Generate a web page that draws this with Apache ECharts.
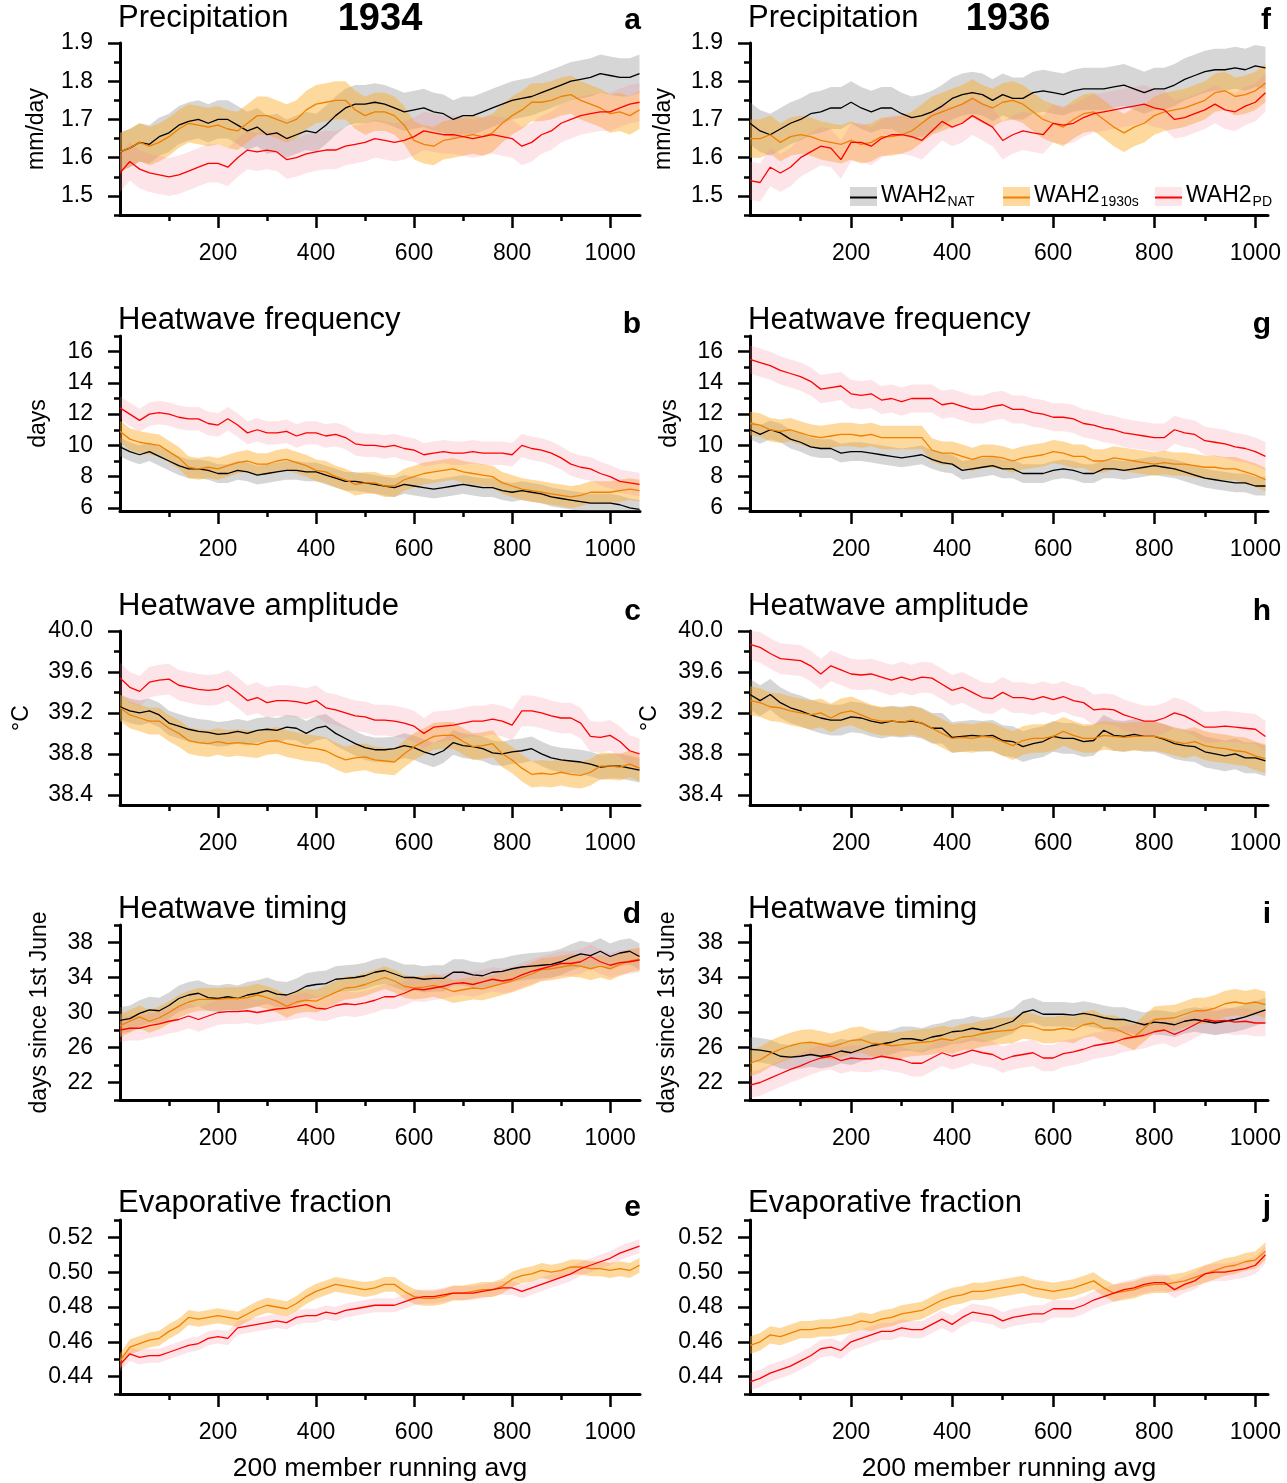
<!DOCTYPE html>
<html>
<head>
<meta charset="utf-8">
<script src="https://cdn.jsdelivr.net/npm/echarts@6/dist/echarts.min.js"></script>
<style>
html,body{margin:0;padding:0;background:#fff;}
#chart{width:1287px;height:1483px;}
</style>
</head>
<body>
<div id="chart"></div>
<script>
// ---------------- DATA ----------------
const xLeft = [0,20,40,60,80,100,120,140,160,180,200,220,240,260,280,300,320,340,360,380,400,420,440,460,480,500,520,540,560,580,600,620,640,660,680,700,720,740,760,780,800,820,840,860,880,900,920,940,960,980,1000,1020,1040,1060];
const xRight = [0,20,40,60,80,100,120,140,160,180,200,220,240,260,280,300,320,340,360,380,400,420,440,460,480,500,520,540,560,580,600,620,640,660,680,700,720,740,760,780,800,820,840,860,880,900,920,940,960,980,1000,1020];

const xTicks = [200,400,600,800,1000];
const xMinorTicks = [100,300,500,700,900];
const precipTicks = [1.5,1.6,1.7,1.8,1.9];
const freqTicks = [6,8,10,12,14,16];
const ampTicks = [38.4,38.8,39.2,39.6,40.0];
const timingTicks = [22,26,30,34,38];
const efTicks = [0.44,0.46,0.48,0.50,0.52];

// 1934 column
const aNat = [1.615,1.625,1.640,1.635,1.655,1.665,1.685,1.695,1.700,1.690, 1.700,1.700,1.685,1.670,1.680,1.660,1.665,1.650,1.660,1.670, 1.665,1.685,1.710,1.730,1.740,1.740,1.745,1.740,1.730,1.720, 1.725,1.730,1.720,1.715,1.700,1.710,1.710,1.720,1.730,1.740, 1.750,1.755,1.760,1.770,1.780,1.790,1.800,1.805,1.810,1.820, 1.815,1.810,1.810,1.820];
const a1930 = [1.615,1.625,1.640,1.630,1.640,1.655,1.675,1.690,1.685,1.680, 1.685,1.675,1.670,1.690,1.710,1.710,1.700,1.690,1.700,1.725, 1.740,1.745,1.750,1.750,1.725,1.710,1.720,1.720,1.710,1.685, 1.645,1.635,1.630,1.645,1.650,1.655,1.660,1.655,1.665,1.690, 1.710,1.725,1.745,1.745,1.750,1.760,1.765,1.750,1.740,1.730, 1.715,1.720,1.710,1.725];
const aPD = [1.560,1.590,1.570,1.560,1.555,1.550,1.555,1.565,1.575,1.585, 1.585,1.575,1.600,1.620,1.615,1.620,1.615,1.595,1.600,1.610, 1.615,1.620,1.620,1.630,1.635,1.640,1.650,1.645,1.640,1.645, 1.655,1.670,1.665,1.660,1.660,1.655,1.650,1.655,1.660,1.655, 1.650,1.630,1.640,1.660,1.670,1.690,1.700,1.710,1.715,1.720, 1.720,1.730,1.740,1.745];

const bNat = [9.9,9.6,9.4,9.6,9.3,9.0,8.7,8.5,8.5,8.4, 8.2,8.2,8.4,8.3,8.1,8.2,8.3,8.4,8.4,8.3, 8.3,8.1,7.9,7.7,7.7,7.6,7.5,7.4,7.3,7.5, 7.4,7.3,7.2,7.3,7.4,7.5,7.4,7.3,7.3,7.1, 7.0,7.1,7.0,6.9,6.7,6.6,6.5,6.4,6.3,6.3, 6.3,6.2,6.0,5.9];
const b1930 = [10.9,10.4,10.2,10.1,10.0,9.6,9.2,8.6,8.5,8.6, 8.5,8.7,8.9,9.0,8.8,8.8,9.0,9.1,8.9,8.7, 8.4,8.3,8.0,7.8,7.5,7.6,7.6,7.4,7.4,7.8, 8.0,8.2,8.3,8.4,8.5,8.3,8.2,8.1,8.0,7.6, 7.4,7.2,7.1,7.0,6.9,6.8,6.7,6.8,7.0,7.0, 7.0,7.1,7.2,7.1];
const bPD = [12.4,12.0,11.6,12.0,12.1,12.0,11.8,11.7,11.7,11.4, 11.3,11.7,11.3,10.8,11.0,10.8,10.8,10.9,10.6,10.8, 10.8,10.6,10.7,10.5,10.1,10.0,10.0,9.9,10.0,9.8, 9.7,9.4,9.5,9.6,9.5,9.5,9.6,9.5,9.5,9.5, 9.4,10.0,9.8,9.7,9.5,9.2,8.8,8.6,8.5,8.2, 8.0,7.7,7.6,7.5];

const cNat = [39.26,39.22,39.20,39.22,39.18,39.10,39.07,39.04,39.02,39.01, 38.99,39.00,39.02,39.00,39.03,39.04,39.03,39.06,39.05,39.00, 39.05,39.07,39.00,38.95,38.90,38.86,38.84,38.84,38.85,38.88, 38.86,38.82,38.79,38.83,38.91,38.88,38.87,38.85,38.81,38.80, 38.82,38.83,38.85,38.80,38.76,38.74,38.73,38.72,38.70,38.67, 38.68,38.68,38.66,38.64];
const c1930 = [39.25,39.18,39.15,39.12,39.12,39.05,39.00,38.93,38.91,38.90, 38.92,38.90,38.91,38.90,38.89,38.92,38.93,38.90,38.88,38.86, 38.85,38.83,38.78,38.74,38.76,38.77,38.74,38.73,38.72,38.80, 38.87,38.92,38.97,38.98,38.98,38.92,38.87,38.88,38.90,38.80, 38.74,38.66,38.60,38.61,38.60,38.62,38.60,38.59,38.62,38.68, 38.68,38.67,38.70,38.66];
const cPD = [39.54,39.45,39.41,39.50,39.52,39.53,39.47,39.45,39.43,39.42, 39.43,39.47,39.40,39.32,39.35,39.30,39.32,39.32,39.31,39.29, 39.32,39.25,39.23,39.20,39.17,39.16,39.13,39.13,39.12,39.10, 39.07,39.00,39.06,39.07,39.08,39.10,39.12,39.12,39.14,39.12, 39.08,39.22,39.22,39.20,39.17,39.15,39.15,39.10,38.97,38.96, 38.98,38.92,38.83,38.80];

const dNat = [29.1,29.3,29.9,30.3,30.2,30.8,31.6,32.0,32.2,31.7, 31.6,31.8,31.6,32.0,32.2,32.5,32.1,32.0,32.4,33.0, 33.2,33.3,33.8,33.9,34.0,34.2,34.6,34.8,34.4,34.0, 34.0,33.8,33.9,33.9,34.6,34.6,34.3,34.2,34.6,34.7, 35.0,35.2,35.3,35.4,35.5,35.8,36.3,36.7,36.5,37.0, 36.4,36.8,37.0,36.4];
const d1930 = [28.5,29.0,29.5,29.0,29.4,30.0,30.7,31.2,31.5,31.5, 31.5,31.6,31.6,31.7,32.0,31.7,31.3,30.7,31.2,31.4, 31.3,31.8,32.3,32.8,32.9,33.2,33.6,34.0,33.6,33.0, 32.8,32.9,33.1,32.8,32.4,32.6,32.8,32.7,33.0,33.3, 33.6,34.0,34.4,34.9,35.0,35.2,35.4,35.3,35.0,35.3, 35.0,35.5,35.9,36.1];
const dPD = [28.0,28.2,28.2,28.5,28.7,29.0,29.2,29.6,29.2,29.6, 30.0,30.1,30.1,30.2,30.0,30.2,30.4,30.5,30.7,30.9, 30.5,30.4,30.8,31.0,30.9,31.1,31.4,31.8,31.8,32.2, 32.7,32.6,32.8,33.0,33.3,33.4,33.2,33.5,33.8,33.6, 33.8,34.3,34.7,35.0,35.3,35.6,35.6,35.8,36.4,35.8, 35.4,35.7,35.8,36.0];

const e1930 = [0.449,0.457,0.459,0.461,0.462,0.466,0.469,0.474,0.473,0.474, 0.475,0.474,0.473,0.476,0.479,0.481,0.480,0.479,0.482,0.486, 0.489,0.491,0.493,0.492,0.491,0.490,0.491,0.493,0.493,0.489, 0.486,0.485,0.485,0.486,0.488,0.488,0.489,0.490,0.490,0.492, 0.496,0.498,0.499,0.501,0.500,0.501,0.503,0.503,0.502,0.502, 0.501,0.502,0.501,0.504];
const ePD = [0.447,0.453,0.451,0.452,0.452,0.454,0.456,0.458,0.459,0.462, 0.463,0.462,0.468,0.469,0.470,0.471,0.472,0.471,0.474,0.475, 0.475,0.477,0.476,0.478,0.479,0.480,0.481,0.481,0.481,0.483, 0.485,0.486,0.486,0.487,0.488,0.488,0.488,0.489,0.490,0.491, 0.491,0.489,0.491,0.493,0.495,0.497,0.499,0.502,0.504,0.506, 0.508,0.511,0.513,0.515];

// 1936 column
const fNat = [1.690,1.670,1.660,1.675,1.690,1.700,1.715,1.720,1.730,1.730, 1.745,1.730,1.720,1.730,1.730,1.715,1.705,1.710,1.720,1.735, 1.755,1.765,1.770,1.765,1.750,1.765,1.755,1.755,1.770,1.775, 1.770,1.765,1.775,1.780,1.780,1.780,1.785,1.790,1.780,1.770, 1.780,1.780,1.790,1.805,1.815,1.825,1.830,1.830,1.835,1.830, 1.840,1.835];
const f1930 = [1.650,1.650,1.660,1.640,1.655,1.660,1.655,1.645,1.640,1.635, 1.645,1.635,1.640,1.655,1.655,1.660,1.670,1.690,1.710,1.720, 1.730,1.740,1.755,1.740,1.730,1.745,1.750,1.740,1.720,1.700, 1.690,1.680,1.700,1.715,1.720,1.700,1.680,1.665,1.680,1.690, 1.710,1.720,1.725,1.730,1.740,1.750,1.770,1.775,1.760,1.765, 1.775,1.795];
const fPD = [1.540,1.535,1.575,1.560,1.575,1.600,1.615,1.630,1.625,1.595, 1.640,1.640,1.630,1.650,1.660,1.660,1.655,1.645,1.670,1.695, 1.680,1.690,1.710,1.695,1.680,1.645,1.660,1.670,1.665,1.660, 1.690,1.685,1.690,1.705,1.715,1.720,1.725,1.730,1.735,1.740, 1.730,1.725,1.700,1.705,1.715,1.725,1.740,1.725,1.720,1.735, 1.745,1.770];

const gNat = [11.0,10.7,11.0,10.8,10.4,10.2,9.9,9.8,9.8,9.5, 9.6,9.6,9.5,9.4,9.3,9.2,9.3,9.4,9.1,8.9, 8.8,8.4,8.5,8.6,8.7,8.5,8.5,8.2,8.2,8.2, 8.4,8.5,8.4,8.2,8.2,8.5,8.5,8.4,8.5,8.6, 8.7,8.6,8.5,8.3,8.1,7.9,7.8,7.7,7.6,7.6, 7.4,7.4];
const g1930 = [11.4,11.3,11.0,10.9,11.0,10.8,10.6,10.5,10.6,10.7, 10.7,10.6,10.7,10.5,10.5,10.5,10.5,10.5,9.7,9.5, 9.5,9.3,9.1,9.3,9.3,9.2,9.0,9.2,9.3,9.4, 9.6,9.5,9.3,9.3,9.0,9.0,9.2,9.1,9.0,8.9, 8.8,8.9,8.8,8.8,8.7,8.6,8.6,8.5,8.5,8.3, 8.1,7.8];
const gPD = [15.5,15.3,15.1,14.8,14.6,14.4,14.1,13.6,13.7,13.8, 13.3,13.2,13.3,12.9,13.0,12.8,13.0,13.0,13.0,12.6, 12.7,12.5,12.3,12.3,12.5,12.6,12.3,12.3,12.1,12.0, 11.8,11.8,11.7,11.4,11.3,11.1,11.0,10.8,10.7,10.6, 10.5,10.5,11.0,10.8,10.7,10.3,10.2,10.1,9.9,9.8, 9.6,9.3];

const hNat = [39.38,39.32,39.38,39.30,39.25,39.22,39.18,39.15,39.13,39.13, 39.16,39.15,39.12,39.10,39.12,39.11,39.12,39.10,39.05,39.05, 38.96,38.97,38.98,38.97,38.98,38.93,38.92,38.87,38.90,38.92, 38.97,38.95,38.95,38.92,38.93,39.03,38.98,38.97,38.99,38.97, 38.97,38.94,38.90,38.88,38.87,38.82,38.80,38.78,38.80,38.76, 38.76,38.73];
const h1930 = [39.32,39.30,39.26,39.25,39.22,39.20,39.18,39.20,39.15,39.20, 39.22,39.18,39.14,39.12,39.12,39.11,39.13,39.10,39.05,39.00, 38.95,38.96,38.95,38.97,38.96,38.92,38.88,38.93,38.95,38.95, 38.97,39.02,38.98,38.95,38.95,38.98,38.97,38.96,38.97,38.97, 38.97,38.95,38.92,38.90,38.92,38.88,38.86,38.85,38.83,38.82, 38.78,38.75];
const hPD = [39.87,39.84,39.78,39.73,39.72,39.71,39.66,39.58,39.66,39.62, 39.58,39.57,39.58,39.55,39.52,39.55,39.52,39.55,39.54,39.48, 39.42,39.45,39.40,39.35,39.34,39.40,39.35,39.35,39.33,39.36, 39.33,39.36,39.32,39.30,39.23,39.24,39.23,39.18,39.15,39.12, 39.12,39.15,39.20,39.17,39.12,39.06,39.06,39.07,39.06,39.05, 39.04,38.97];

const iNat = [25.8,25.7,25.5,25.0,24.9,25.0,25.2,25.0,25.2,25.6, 25.4,25.8,26.2,26.4,26.6,27.0,27.0,26.8,27.2,27.4, 27.8,27.9,28.2,28.0,28.2,28.6,29.0,30.0,30.3,29.8, 29.8,29.8,29.7,29.9,29.7,29.4,29.2,29.2,28.9,28.6, 28.9,28.8,28.6,29.0,29.2,29.0,28.8,29.0,29.2,29.5, 29.9,30.3];
const i1930 = [24.2,24.6,25.3,25.8,26.2,26.5,26.6,26.4,26.1,26.4, 26.8,26.9,26.5,26.4,26.2,26.3,26.5,26.6,26.7,27.0, 26.8,27.2,27.3,27.6,27.8,27.9,28.0,28.5,28.4,28.0, 28.0,28.2,28.0,28.6,28.8,28.2,28.2,27.7,27.2,28.2, 29.2,29.3,29.4,29.8,30.2,30.2,30.5,31.0,31.2,31.0, 31.2,30.9];
const iPD = [21.7,22.0,22.5,23.0,23.5,23.9,24.4,24.8,25.0,24.5, 24.8,24.7,24.7,25.0,24.8,24.6,24.2,24.2,24.8,25.4, 25.0,25.3,25.7,25.4,25.2,24.6,25.0,25.2,25.4,24.8, 24.8,25.3,25.5,25.8,26.2,26.4,26.6,27.0,27.2,27.4, 27.8,28.0,27.5,28.0,28.6,29.2,29.0,29.1,28.9,29.0, 28.8,28.8];

const j1930 = [0.458,0.460,0.464,0.463,0.465,0.467,0.467,0.468,0.468,0.469, 0.470,0.472,0.471,0.473,0.474,0.476,0.477,0.478,0.481,0.484, 0.486,0.487,0.489,0.489,0.490,0.491,0.492,0.493,0.491,0.490, 0.489,0.490,0.491,0.493,0.495,0.491,0.488,0.489,0.490,0.492, 0.493,0.493,0.494,0.495,0.497,0.499,0.501,0.503,0.504,0.506, 0.507,0.512];
const jPD = [0.437,0.439,0.442,0.444,0.446,0.449,0.452,0.456,0.457,0.455, 0.460,0.462,0.464,0.466,0.466,0.468,0.467,0.467,0.470,0.473, 0.470,0.474,0.477,0.476,0.475,0.472,0.474,0.475,0.476,0.476, 0.479,0.479,0.479,0.481,0.484,0.486,0.488,0.490,0.491,0.493, 0.494,0.494,0.490,0.493,0.495,0.499,0.500,0.500,0.501,0.502, 0.504,0.510];

// half-width of the shaded spread [NAT, 1930s, PD]
const spreadA = [0.05, 0.05, 0.05];
const spreadB = [0.6, 0.7, 0.75];
const spreadC = [0.12, 0.13, 0.15];
const spreadD = [1.5, 1.3, 1.4];
const spreadE = [0, 0.0043, 0.004];
const spreadF = [0.055, 0.05, 0.05];
const spreadG = [0.6, 0.75, 0.9];
const spreadH = [0.15, 0.14, 0.15];
const spreadI = [1.4, 1.5, 1.5];
const spreadJ = [0, 0.005, 0.005];

// ---------------- STYLE / LAYOUT ----------------
const FONT = "'Liberation Sans', Arial, Helvetica, sans-serif";
const colNatLine = '#000000', colNatBand = 'rgba(120,120,120,0.30)';
const col30Line = '#f08000', col30Band = 'rgba(253,170,40,0.45)';
const colPDLine = '#ff0000', colPDBand = 'rgba(245,130,150,0.22)';

const rows = [
  {min:1.45, max:1.9, major:precipTicks, minor:[1.45,1.55,1.65,1.75,1.85], dec:1, name:'mm/day', gap:[72,75], top:43, h:172, title:'Precipitation', ty:18, ly:21},
  {min:5.8, max:17, major:freqTicks, minor:[7,9,11,13,15,17], dec:0, name:'days', gap:[70,69], top:336, h:175, title:'Heatwave frequency', ty:320, ly:325},
  {min:38.3, max:40.0, major:ampTicks, minor:[38.6,39.0,39.4,39.8], dec:1, name:'°C', gap:[87,89], top:631, h:174, title:'Heatwave amplitude', ty:606, ly:612},
  {min:20, max:40, major:timingTicks, minor:[20,24,28,32,36,40], dec:0, name:'days since 1st June', gap:[69,71], top:925, h:175, title:'Heatwave timing', ty:909, ly:915},
  {min:0.43, max:0.53, major:efTicks, minor:[0.43,0.45,0.47,0.49,0.51,0.53], dec:2, name:'', gap:[70,70], top:1220, h:174, title:'Evaporative fraction', ty:1203, ly:1208}
];

const panels = [
  {col:0,row:0,letter:'a',nat:aNat,s30:a1930,pd:aPD,sp:spreadA},
  {col:0,row:1,letter:'b',nat:bNat,s30:b1930,pd:bPD,sp:spreadB},
  {col:0,row:2,letter:'c',nat:cNat,s30:c1930,pd:cPD,sp:spreadC},
  {col:0,row:3,letter:'d',nat:dNat,s30:d1930,pd:dPD,sp:spreadD},
  {col:0,row:4,letter:'e',nat:null,s30:e1930,pd:ePD,sp:spreadE},
  {col:1,row:0,letter:'f',nat:fNat,s30:f1930,pd:fPD,sp:spreadF},
  {col:1,row:1,letter:'g',nat:gNat,s30:g1930,pd:gPD,sp:spreadG},
  {col:1,row:2,letter:'h',nat:hNat,s30:h1930,pd:hPD,sp:spreadH},
  {col:1,row:3,letter:'i',nat:iNat,s30:i1930,pd:iPD,sp:spreadI},
  {col:1,row:4,letter:'j',nat:null,s30:j1930,pd:jPD,sp:spreadJ}
];

const grids = [], xAxes = [], yAxes = [], series = [], graphics = [];
const axisLineStyle = {color:'#000', width:3};

function bandRenderer(xs, vals, hw, fill, ymin, ymax) {
  return function (params, api) {
    const clamp = (v) => Math.max(ymin, Math.min(ymax, v));
    const upper = xs.map((x, i) => api.coord([x, clamp(vals[i] + hw)]));
    const lower = xs.map((x, i) => api.coord([x, clamp(vals[i] - hw)])).reverse();
    return {type:'polygon', shape:{points: upper.concat(lower)}, style:{fill: fill}, silent:true};
  };
}

panels.forEach((p, k) => {
  const r = rows[p.row];
  const left = p.col === 0 ? 120 : 750;
  const width = p.col === 0 ? 520 : 518;
  const xs = p.col === 0 ? xLeft : xRight;
  const xmax = p.col === 0 ? 1061 : 1025;
  grids.push({left:left, top:r.top, width:width, height:r.h, containLabel:false, outerBoundsMode:'none'});
  xAxes.push({type:'value', gridIndex:k, min:0, max:xmax, position:'bottom',
    axisLine:{show:true, onZero:false, lineStyle:axisLineStyle},
    axisTick:{show:true, customValues:xTicks, length:13, lineStyle:{color:'#000', width:2.5}},
    axisLabel:{show:true, customValues:xTicks, margin:27, fontSize:23, color:'#000', fontFamily:FONT,
      formatter:(v) => String(Math.round(v))},
    splitLine:{show:false},
    name: p.row === 4 ? '200 member running avg' : '',
    nameLocation:'middle', nameGap:61,
    nameTextStyle:{fontSize:26.5, color:'#000', fontFamily:FONT}
  });
  xAxes.push({type:'value', gridIndex:k, min:0, max:xmax, position:'bottom',
    axisLine:{show:false, onZero:false},
    axisTick:{show:true, customValues:xMinorTicks, length:6, lineStyle:{color:'#000', width:2.5}},
    axisLabel:{show:false}, splitLine:{show:false}
  });
  yAxes.push({type:'value', gridIndex:k, min:r.min, max:r.max, position:'left',
    axisLine:{show:true, onZero:false, lineStyle:axisLineStyle},
    axisTick:{show:true, customValues:r.major, length:12, lineStyle:{color:'#000', width:2.5}},
    axisLabel:{show:true, customValues:r.major, margin:27, fontSize:23, color:'#000', fontFamily:FONT,
      formatter:(v) => Number(v).toFixed(r.dec)},
    splitLine:{show:false},
    name:r.name, nameLocation:'middle', nameRotate:90, nameGap:r.gap[p.col],
    nameTextStyle:{fontSize:23, color:'#000', fontFamily:FONT}
  });
  yAxes.push({type:'value', gridIndex:k, min:r.min, max:r.max, position:'left',
    axisLine:{show:false, onZero:false},
    axisTick:{show:true, customValues:r.minor, length:6, lineStyle:{color:'#000', width:2.5}},
    axisLabel:{show:false}, splitLine:{show:false}
  });

  const xi = 2*k, yi = 2*k;
  const sets = [
    [p.nat, p.sp[0], colNatLine, colNatBand],
    [p.s30, p.sp[1], col30Line, col30Band],
    [p.pd,  p.sp[2], colPDLine, colPDBand]
  ];
  sets.forEach((s) => {
    if (!s[0]) return;
    series.push({type:'custom', xAxisIndex:xi, yAxisIndex:yi, silent:true, clip:true,
      data:[[xs[0], s[0][0]]],
      renderItem: bandRenderer(xs, s[0], s[1], s[3], r.min, r.max), z:1});
  });
  sets.forEach((s) => {
    if (!s[0]) return;
    series.push({type:'line', xAxisIndex:xi, yAxisIndex:yi, symbol:'none', silent:true,
      data: xs.map((x, i) => [x, s[0][i]]), lineStyle:{color:s[2], width:1.3}, z:3});
  });

  graphics.push({type:'text', z:100, x: p.col === 0 ? 118 : 748, y: r.ty,
    style:{text:r.title, fontSize:31, fontFamily:FONT, fill:'#000', align:'left', verticalAlign:'middle', textAlign:'left', textVerticalAlign:'middle'}});
  graphics.push({type:'text', z:100, x: p.col === 0 ? 641 : 1271, y: r.ly,
    style:{text:p.letter, fontSize:30, fontWeight:'bold', fontFamily:FONT, fill:'#000', align:'right', verticalAlign:'middle', textAlign:'right', textVerticalAlign:'middle'}});
});

graphics.push({type:'text', z:100, x:380, y:20, style:{text:'1934', fontSize:38, fontWeight:'bold', fontFamily:FONT, fill:'#000', align:'center', verticalAlign:'middle', textAlign:'center', textVerticalAlign:'middle'}});
graphics.push({type:'text', z:100, x:1008, y:20, style:{text:'1936', fontSize:38, fontWeight:'bold', fontFamily:FONT, fill:'#000', align:'center', verticalAlign:'middle', textAlign:'center', textVerticalAlign:'middle'}});

// legend (panel f)
const legendItems = [
  {x:850, band:colNatBand, line:colNatLine, sub:'NAT'},
  {x:1003, band:col30Band, line:col30Line, sub:'1930s'},
  {x:1155, band:colPDBand, line:colPDLine, sub:'PD'}
];
legendItems.forEach(it => {
  graphics.push({type:'rect', z:100, shape:{x:it.x, y:187, width:27, height:19}, style:{fill:it.band}});
  graphics.push({type:'line', z:101, shape:{x1:it.x, y1:197.5, x2:it.x+27, y2:197.5}, style:{stroke:it.line, lineWidth:2}});
  graphics.push({type:'text', z:101, x:it.x+31, y:196,
    style:{text:'{m|WAH2}{s|' + it.sub + '}', fontFamily:FONT, fill:'#000', align:'left', verticalAlign:'middle', textAlign:'left', textVerticalAlign:'middle',
      rich:{m:{fontSize:23, fontFamily:FONT, fill:'#000', lineHeight:30, verticalAlign:'middle'},
            s:{fontSize:14, fontFamily:FONT, fill:'#000', lineHeight:30, verticalAlign:'bottom', padding:[0,0,2,1]}}}});
});

const chart = echarts.init(document.getElementById('chart'), null, {renderer:'canvas'});
chart.setOption({
  animation:false,
  backgroundColor:'#ffffff',
  grid:grids,
  xAxis:xAxes,
  yAxis:yAxes,
  series:series,
  graphic:{elements:graphics}
});
</script>
</body>
</html>
